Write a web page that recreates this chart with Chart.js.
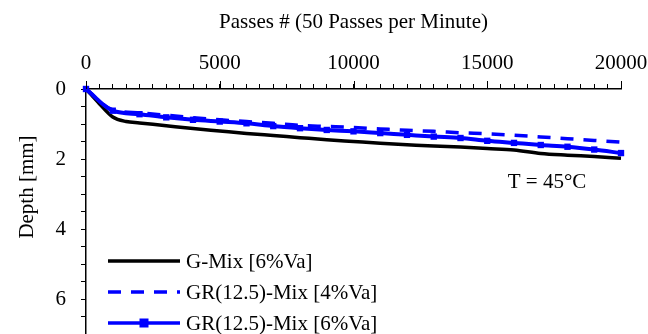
<!DOCTYPE html>
<html>
<head>
<meta charset="utf-8">
<script src="https://cdn.jsdelivr.net/npm/chart.js@4.4.1/dist/chart.umd.min.js"></script>
<style>
    html, body { margin: 0; padding: 0; background: #fff; overflow: hidden; }
    #wrap { width: 648px; height: 334px; position: relative; }
</style>
</head>
<body>
<div id="wrap"><canvas id="rut-chart"></canvas></div>
<script>
    // Passes (x) shared by both GR mixes
    const passes = [0, 1000, 2000, 3000, 4000, 5000, 6000, 7000, 8000, 9000, 10000,
        11000, 12000, 13000, 14000, 15000, 16000, 17000, 18000, 19000, 20000];

    // G-Mix has a couple of extra early readings
    const gPasses = [0, 500, 1000, 1500, 2000, 3000, 4000, 5000, 6000, 7000, 8000, 9000, 10000,
        11000, 12000, 13000, 14000, 15000, 16000, 17000, 18000, 19000, 20000];
    const gDepth = [0, 0.42, 0.8, 0.93, 0.97, 1.05, 1.13, 1.2, 1.27, 1.33, 1.39, 1.45, 1.5,
        1.55, 1.59, 1.63, 1.66, 1.7, 1.74, 1.84, 1.89, 1.93, 1.98];

    const gr4Depth = [0, 0.6, 0.68, 0.75, 0.82, 0.88, 0.93, 0.98, 1.04, 1.07, 1.1,
        1.14, 1.18, 1.21, 1.25, 1.28, 1.32, 1.37, 1.42, 1.47, 1.52];

    const gr6Depth = [0, 0.62, 0.72, 0.81, 0.88, 0.93, 0.98, 1.06, 1.12, 1.17, 1.21,
        1.26, 1.31, 1.36, 1.4, 1.48, 1.54, 1.6, 1.65, 1.73, 1.83];

    const seriesNames = ['G-Mix [6%Va]', 'GR(12.5)-Mix [4%Va]', 'GR(12.5)-Mix [6%Va]'];

    const xTitle = 'Passes # (50 Passes per Minute)';
    const yTitle = 'Depth [mm]';
    const note = 'T = 45°C';

    const FONT = '"Liberation Serif", "Times New Roman", serif';

    function toPoints(xs, ys) {
        return xs.map((x, i) => ({ x: x, y: ys[i] }));
    }

    /**
     * Extra drawing: longer major ticks, y title, note, in-plot legend
     */
    const decorPlugin = {
        id: 'decor',
        afterDraw(chart) {
            const ctx = chart.ctx;
            const xs = chart.scales.x;
            const area = chart.chartArea;

            ctx.save();
            // longer major ticks on the top axis
            ctx.strokeStyle = '#000';
            ctx.lineWidth = 1;
            for (let v = 0; v <= 20000; v += 5000) {
                const px = Math.round(xs.getPixelForValue(v)) + 0.5;
                ctx.beginPath();
                ctx.moveTo(px, area.top);
                ctx.lineTo(px, area.top - 8);
                ctx.stroke();
            }

            ctx.fillStyle = '#000';
            ctx.font = '21px ' + FONT;
            ctx.textAlign = 'center';
            ctx.textBaseline = 'middle';
            ctx.fillText(note, 547, 182);

            // y axis title
            ctx.save();
            ctx.translate(27, 187);
            ctx.rotate(-Math.PI / 2);
            ctx.fillText(yTitle, 0, 0);
            ctx.restore();

            // legend
            const rows = [261, 292, 323];
            ctx.textAlign = 'left';
            chart.data.datasets.forEach((ds, i) => {
                const y = rows[i];
                ctx.strokeStyle = ds.borderColor;
                ctx.lineWidth = 3.5;
                ctx.setLineDash(ds.borderDash || []);
                ctx.beginPath();
                ctx.moveTo(108, y);
                ctx.lineTo(180, y);
                ctx.stroke();
                ctx.setLineDash([]);
                if (ds.pointRadius > 0) {
                    ctx.fillStyle = ds.pointBackgroundColor;
                    ctx.fillRect(144 - 4.5, y - 4.5, 9, 9);
                }
                ctx.fillStyle = '#000';
                ctx.fillText(ds.label, 186, y + 1);
            });
            ctx.restore();
        }
    };

    const ctx = document.getElementById('rut-chart').getContext('2d');

    new Chart(ctx, {
        type: 'line',
        data: {
            datasets: [{
                label: seriesNames[0],
                data: toPoints(gPasses, gDepth),
                borderColor: '#000',
                borderWidth: 3.5,
                pointRadius: 0,
                cubicInterpolationMode: 'monotone',
                clip: false,
                order: 2
            }, {
                label: seriesNames[1],
                data: toPoints(passes, gr4Depth),
                borderColor: '#0000ff',
                borderWidth: 3.5,
                borderDash: [13, 10],
                pointRadius: 0,
                cubicInterpolationMode: 'monotone',
                clip: false,
                order: 1
            }, {
                label: seriesNames[2],
                data: toPoints(passes, gr6Depth),
                borderColor: '#0000ff',
                borderWidth: 4,
                pointStyle: 'rect',
                pointRadius: 4.5,
                pointBackgroundColor: '#0000ff',
                pointBorderColor: '#0000ff',
                pointBorderWidth: 0,
                cubicInterpolationMode: 'monotone',
                clip: false,
                order: 0
            }]
        },
        options: {
            responsive: true,
            maintainAspectRatio: false,
            animation: false,
            layout: {
                autoPadding: false,
                padding: { left: 0, right: 27, top: 0, bottom: 0 }
            },
            plugins: {
                legend: { display: false },
                tooltip: { enabled: false }
            },
            scales: {
                x: {
                    type: 'linear',
                    position: 'top',
                    min: 0,
                    max: 20000,
                    title: {
                        display: true,
                        text: xTitle,
                        color: '#000',
                        font: { family: FONT, size: 21 },
                        padding: { top: 10, bottom: 0 }
                    },
                    ticks: {
                        stepSize: 500,
                        autoSkip: false,
                        maxRotation: 0,
                        color: '#000',
                        padding: 8,
                        font: { family: FONT, size: 21 },
                        callback: (v) => (v % 5000 === 0 ? String(v) : '')
                    },
                    grid: {
                        drawOnChartArea: false,
                        drawTicks: true,
                        tickLength: 5,
                        color: '#000'
                    },
                    border: { display: true, color: '#000', width: 1.5 },
                    afterFit: (scale) => {
                        scale.height = 89;
                        scale.paddingLeft = 0;
                        scale.paddingRight = 0;
                    }
                },
                y: {
                    type: 'linear',
                    reverse: true,
                    min: 0,
                    max: 7,
                    ticks: {
                        stepSize: 0.5,
                        autoSkip: false,
                        color: '#000',
                        padding: 15,
                        font: { family: FONT, size: 21 },
                        callback: (v) => (v % 2 === 0 ? String(v) : '')
                    },
                    grid: {
                        drawOnChartArea: false,
                        drawTicks: true,
                        tickLength: 5,
                        color: '#000'
                    },
                    border: { display: true, color: '#000', width: 1.5 },
                    afterFit: (scale) => {
                        scale.width = 86;
                        scale.paddingTop = 0;
                        scale.paddingBottom = 0;
                    }
                }
            }
        },
        plugins: [decorPlugin]
    });
</script>
</body>
</html>
